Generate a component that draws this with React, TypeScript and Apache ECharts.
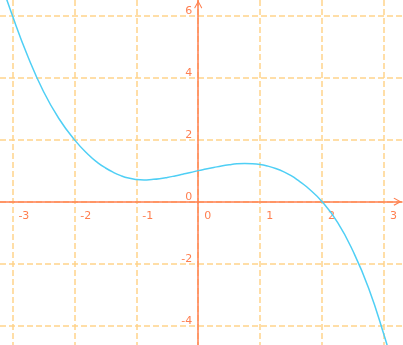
import React, { useEffect, useRef } from "react";
import * as echarts from "echarts";

// x positions and read-off y values of the plotted curve
const xValues = [
  -3.25, -3.0, -2.75, -2.5, -2.25, -2.0, -1.75, -1.625, -1.5, -1.375, -1.25, -1.125, -1.0, -0.875,
  -0.75, -0.625, -0.5, -0.375, -0.25, -0.125, 0, 0.125, 0.25, 0.375, 0.5, 0.625, 0.75, 0.875, 1.0,
  1.125, 1.25, 1.375, 1.5, 1.625, 1.75, 2.0, 2.25, 2.5, 2.75, 3.0, 3.25,
];
const yValues = [
  7.45, 6.0, 4.68, 3.56, 2.68, 2.0, 1.47, 1.26, 1.09, 0.95, 0.84, 0.76, 0.715, 0.7,
  0.715, 0.74, 0.78, 0.83, 0.885, 0.94, 1.0, 1.05, 1.1, 1.15, 1.19, 1.22, 1.23, 1.225, 1.2,
  1.145, 1.07, 0.97, 0.84, 0.67, 0.48, 0.0, -0.67, -1.6, -2.78, -4.3, -6.0,
];

const xRange = [-3.2, 3.29];
const yRange = [-4.62, 6.5];

const AXIS_COLOR = "#ff7f50";
const SPLIT_COLOR = "#ffd48a";
const CURVE_COLOR = "#4fcff5";
const ARROW = "path://M5,0 L10,9 L9,10 L5,2.6 L1,10 L0,9 Z";

const CHART_W = 403;
const CHART_H = 345;
const GRID = { left: 0, right: 1, top: 0, bottom: 0 };

export default function App() {
  const ref = useRef<HTMLDivElement>(null);
  useEffect(() => {
    if (!ref.current) return;
    const chart = echarts.init(ref.current, null, { renderer: "svg" });
    const data = xValues.map((x, i) => [x, yValues[i]]);
    // place the axes through the origin (labels move with them)
    const gridW = CHART_W - GRID.left - GRID.right;
    const gridH = CHART_H - GRID.top - GRID.bottom;
    const zeroX = ((0 - xRange[0]) / (xRange[1] - xRange[0])) * gridW;
    const zeroYFromBottom = ((0 - yRange[0]) / (yRange[1] - yRange[0])) * gridH;
    const axisLine = {
      show: true,
      onZero: false,
      lineStyle: { color: AXIS_COLOR, width: 1.5 },
      symbol: ["none", ARROW],
      symbolSize: [8, 9],
      symbolOffset: [0, -4.5],
    };
    const splitLine = {
      show: true,
      showMinLine: false,
      showMaxLine: false,
      lineStyle: { color: SPLIT_COLOR, width: 1.5, type: "dashed" },
    };
    chart.setOption({
      animation: false,
      grid: { ...GRID, containLabel: false, outerBoundsMode: "none" },
      xAxis: {
        type: "value",
        position: "bottom",
        offset: -zeroYFromBottom,
        min: xRange[0],
        max: xRange[1],
        minInterval: 1,
        maxInterval: 1,
        axisLine,
        axisTick: { show: false },
        splitLine,
        axisLabel: {
          color: AXIS_COLOR,
          fontSize: 11,
          fontFamily: "DejaVu Sans",
          align: "left",
          padding: [0, 0, 0, 6],
          margin: 8,
          showMinLabel: false,
          showMaxLabel: false,
        },
      },
      yAxis: {
        type: "value",
        position: "left",
        offset: -zeroX,
        min: yRange[0],
        max: yRange[1],
        minInterval: 2,
        maxInterval: 2,
        axisLine,
        axisTick: { show: false },
        splitLine,
        axisLabel: {
          color: AXIS_COLOR,
          fontSize: 11,
          fontFamily: "DejaVu Sans",
          verticalAlign: "bottom",
          margin: 6,
          showMinLabel: false,
          showMaxLabel: false,
        },
      },
      series: [
        {
          type: "line",
          data,
          smooth: true,
          showSymbol: false,
          clip: true,
          lineStyle: { color: CURVE_COLOR, width: 1.5 },
        },
      ],
    });
    return () => chart.dispose();
  }, []);
  return (
    <div
      ref={ref}
      style={{ position: "fixed", left: 0, top: 0, width: CHART_W, height: CHART_H }}
    />
  );
}
